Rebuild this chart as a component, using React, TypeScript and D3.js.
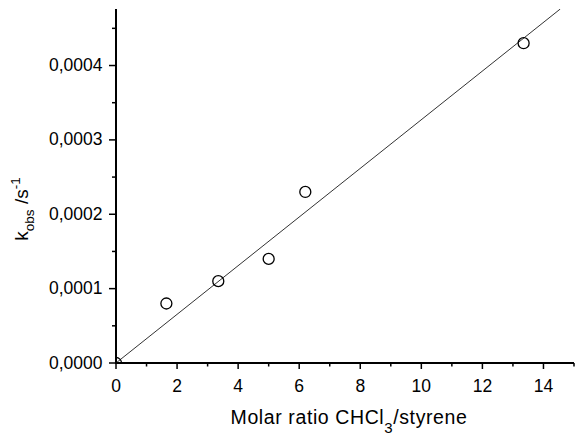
import React from "react";
import * as d3 from "d3";

const ratio = [0, 1.65, 3.35, 5.0, 6.2, 13.35];
const kobs = [0, 0.00008, 0.00011, 0.00014, 0.00023, 0.00043];
const fitX = [0, 14.55];
const fitY = [0, 0.000476];
const xTicks = [0, 2, 4, 6, 8, 10, 12, 14];
const xMinor = [1, 3, 5, 7, 9, 11, 13, 15];
const yTicks = [0, 0.0001, 0.0002, 0.0003, 0.0004];
const yMinor = [0.00005, 0.00015, 0.00025, 0.00035, 0.00045];

const W = 578, H = 436;
const left = 116, right = 574, top = 9, bottom = 363;

export default function App() {
  const x = d3.scaleLinear().domain([0, 15]).range([left, right]);
  const y = d3.scaleLinear().domain([0, 0.000476]).range([bottom, top]);
  const fmt = (v: number) => v.toFixed(4).replace(".", ",");
  const line = d3.line<number>().x((_, i) => x(fitX[i])).y((d) => y(d));
  const font = "Arial, 'Liberation Sans', sans-serif";
  return (
    <svg width={W} height={H} style={{ position: "absolute", left: 0, top: 0, background: "#fff" }} fontFamily={font}>
      <defs>
        <clipPath id="plot">
          <rect x={left} y={top} width={right - left} height={bottom - top} />
        </clipPath>
      </defs>
      <path d={line(fitY) || ""} stroke="#333" strokeWidth={1} fill="none" clipPath="url(#plot)" />
      <g clipPath="url(#plot)">
        {ratio.map((r, i) => (
          <circle key={i} cx={x(r)} cy={y(kobs[i])} r={5.5} fill="none" stroke="#000" strokeWidth={1.3} />
        ))}
      </g>
      <line x1={left} x2={left} y1={top} y2={bottom + 1} stroke="#000" strokeWidth={2} />
      <line x1={left - 1} x2={right} y1={bottom} y2={bottom} stroke="#000" strokeWidth={2} />
      {xTicks.map((t) => (
        <g key={"x" + t}>
          <line x1={x(t)} x2={x(t)} y1={bottom} y2={bottom + 6} stroke="#000" strokeWidth={1.5} />
          <text x={x(t)} y={391.5} textAnchor="middle" fontSize={17.5}>{t}</text>
        </g>
      ))}
      {xMinor.map((t) => (
        <line key={"xm" + t} x1={x(t)} x2={x(t)} y1={bottom} y2={bottom + 3.5} stroke="#000" strokeWidth={1.5} />
      ))}
      {yTicks.map((t) => (
        <g key={"y" + t}>
          <line x1={left - 7} x2={left} y1={y(t)} y2={y(t)} stroke="#000" strokeWidth={1.5} />
          <text x={102.5} y={y(t) + 5.5} textAnchor="end" fontSize={17.5}>{fmt(t)}</text>
        </g>
      ))}
      {yMinor.map((t) => (
        <line key={"ym" + t} x1={left - 4} x2={left} y1={y(t)} y2={y(t)} stroke="#000" strokeWidth={1.5} />
      ))}
      <text x={349} y={424} textAnchor="middle" fontSize={19.5} letterSpacing={0.6}>
        Molar ratio CHCl<tspan fontSize={15} dy={9}>3</tspan><tspan dy={-9}>/styrene</tspan>
      </text>
      <text transform={`translate(28,209) rotate(-90)`} textAnchor="middle" fontSize={19}>
        k<tspan fontSize={13.5} dy={6}>obs</tspan><tspan dy={-6}> /s</tspan><tspan fontSize={13.5} dy={-8}>-1</tspan>
      </text>
    </svg>
  );
}
